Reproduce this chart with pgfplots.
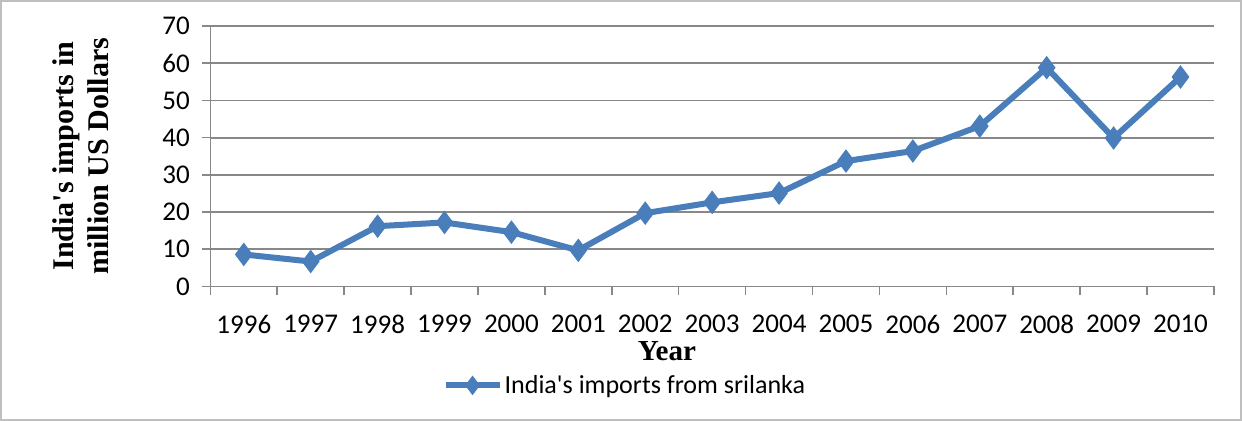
\documentclass[border=0pt]{standalone}
\usepackage{pgfplots}
\pgfplotsset{compat=1.18}
\usepackage{fontspec}
\setmainfont{Carlito}
\newfontfamily\serifb{Liberation Serif}
\definecolor{xlblue}{HTML}{4A7EBB}
\definecolor{gridgray}{HTML}{888888}
\definecolor{framegray}{HTML}{BFBFBF}

\begin{document}
\begin{tikzpicture}
    \begin{axis}[
        scale only axis=true,
        width=1002pt, height=260pt,
        xmin=-0.5, xmax=14.5,
        ymin=0, ymax=70,
        ytick={0,10,...,70},
        xtick={0,...,14},
        xticklabels={1996,1997,1998,1999,2000,2001,2002,2003,2004,2005,2006,2007,2008,2009,2010},
        minor xtick={-0.5,0.5,...,14.5},
        major x tick style={draw=none},
        minor x tick style={gridgray, line width=1.5pt},
        y tick style={gridgray, line width=1.5pt},
        tick align=outside,
        xtick pos=bottom, ytick pos=left,
        major tick length=8pt, minor tick length=9pt,
        ymajorgrids=true,
        grid style={gridgray, line width=1.8pt},
        axis x line*=bottom, axis y line*=left,
        axis line style={gridgray, line width=1.5pt},
        x axis line style={-}, y axis line style={-},
        tick label style={font=\fontsize{27}{32}\selectfont},
        /pgf/number format/assume math mode=true,
        xticklabel style={yshift=-17pt},
        yticklabel style={xshift=-9pt},
        xlabel={\serifb\bfseries Year},
        xlabel style={font=\fontsize{29}{34}\selectfont, anchor=center,
            at={(axis description cs:0.455,-0.248)}},
        ylabel={\serifb\bfseries India\textquotesingle s imports in\\ \serifb\bfseries million US Dollars},
        ylabel style={font=\fontsize{30}{35}\selectfont, align=center, anchor=center,
            rotate=0, at={(axis description cs:-0.129,0.5)}},
        legend style={draw=none, fill=none, anchor=center,
            at={(axis description cs:0.413,-0.38)},
            font=\fontsize{26}{31}\selectfont},
        legend cell align=left,
        legend image code/.code={%
            \draw[#1, mark repeat=2, mark phase=2, mark size=9pt]
            plot coordinates {(0pt,0pt) (27pt,0pt) (54pt,0pt)};},
    ]
    \addplot[
        color=xlblue, line width=6pt,
        mark=diamond*, mark size=11pt,
        mark options={solid, line width=1pt}
        ]
        coordinates {(0,8.6)(1,6.7)(2,16.2)(3,17.2)(4,14.6)(5,9.7)(6,19.7)(7,22.6)
                     (8,25.1)(9,33.7)(10,36.4)(11,43.1)(12,58.8)(13,39.9)(14,56.3)};
    \addlegendentry{India\textquotesingle s imports from srilanka}
    \end{axis}
    \draw[framegray, line width=2pt]
        ([shift={(-209pt,-133pt)}]current axis.south west) rectangle
        ([shift={(27pt,25pt)}]current axis.north east);
\end{tikzpicture}
\end{document}
